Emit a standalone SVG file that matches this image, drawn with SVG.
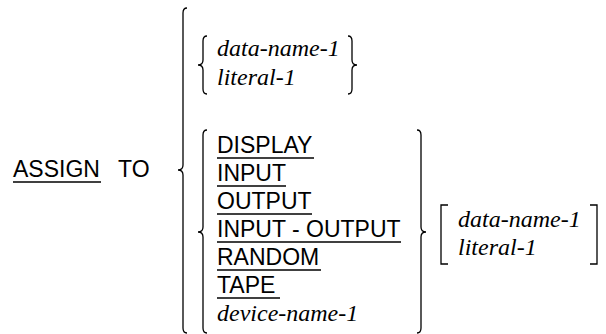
<svg xmlns="http://www.w3.org/2000/svg" width="606" height="334" viewBox="0 0 606 334">
<style>
.k{font-family:"Liberation Sans",Arial,sans-serif;font-size:23px;fill:#000}
.v{font-family:'Liberation Serif','Times New Roman',Times,'DejaVu Serif',serif;font-style:italic;font-size:24px;fill:#000}
.b{fill:none;stroke:#000;stroke-width:1.3}
.u{stroke:#000;stroke-width:1.3}
</style>
<rect width="606" height="334" fill="#fff"/>
<g id="assign">
<text class="k" x="13" y="177">ASSIGN</text>
<line class="u" x1="13" y1="182" x2="101" y2="182"/>
<text class="k" x="118" y="177">TO</text>
</g>
<g id="outer-brace">
<path class="b" d="M187,8 Q183,8 183,13 L183,165 Q183,170 178,170 Q183,170 183,175 L183,328 Q183,333 187,333"/>
</g>
<g id="group1">
<path class="b" d="M207,36 Q203,36 203,41 L203,60 Q203,65 198,65 Q203,65 203,70 L203,89 Q203,94 207,94"/>
<text class="v" x="217" y="56">data-name-1</text>
<text class="v" x="217" y="85">literal-1</text>
<path class="b" d="M348,36 Q352,36 352,41 L352,60 Q352,65 357,65 Q352,65 352,70 L352,89 Q352,94 348,94"/>
</g>
<g id="group2">
<path class="b" d="M207,130 Q203,130 203,135 L203,227 Q203,232 198,232 Q203,232 203,237 L203,328 Q203,333 207,333"/>
<text class="k" x="217" y="153">DISPLAY</text>
<line class="u" x1="217" y1="158" x2="314" y2="158"/>
<text class="k" x="217" y="181">INPUT</text>
<line class="u" x1="217" y1="186" x2="286" y2="186"/>
<text class="k" x="217" y="209">OUTPUT</text>
<line class="u" x1="217" y1="214" x2="312" y2="214"/>
<text class="k" x="217" y="237">INPUT - OUTPUT</text>
<line class="u" x1="217" y1="242" x2="401" y2="242"/>
<text class="k" x="217" y="265">RANDOM</text>
<line class="u" x1="217" y1="270" x2="321" y2="270"/>
<text class="k" x="217" y="293">TAPE</text>
<line class="u" x1="217" y1="298" x2="280" y2="298"/>
<text class="v" x="217" y="321">device-name-1</text>
<path class="b" d="M417,130 Q421,130 421,135 L421,227 Q421,232 426,232 Q421,232 421,237 L421,328 Q421,333 417,333"/>
</g>
<g id="group3">
<path class="b" d="M448,205 L441,205 L441,264 L448,264"/>
<text class="v" x="458" y="227">data-name-1</text>
<text class="v" x="458" y="255">literal-1</text>
<path class="b" d="M590,205 L597,205 L597,264 L590,264"/>
</g>
</svg>
